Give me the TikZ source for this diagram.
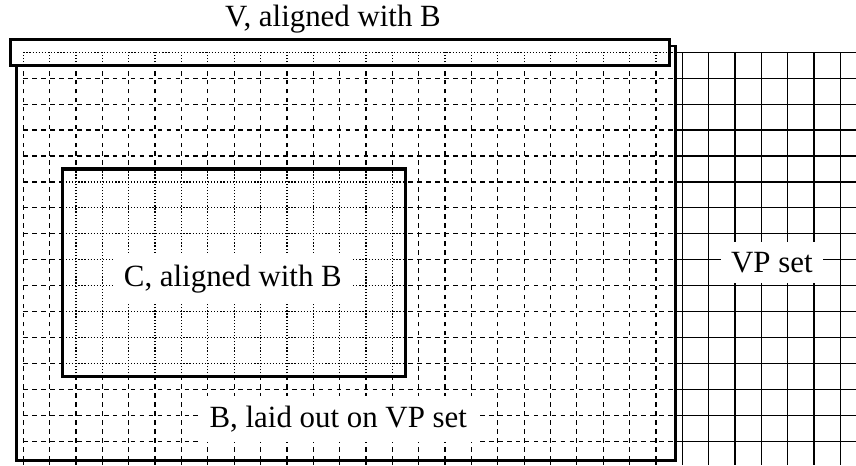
\documentclass[tikz,border=0pt]{standalone}
\usepackage{fontspec}
\setmainfont{Liberation Serif}
\tikzset{
	vpline/.style = {line width=0.4pt},
	bline/.style = {line width=0.4pt, dash pattern=on 1.5pt off 1.4pt,
		xstep=0.3cm, ystep=0.295cm},
	fineline/.style = {line width=0.4pt, dash pattern=on 0.4pt off 0.6pt,
		xstep=0.3cm, ystep=0.295cm},
	outline/.style = {line width=1pt, fill=white},
	tag/.style = {fill=white, anchor=base}
}
\begin{document}
\begin{tikzpicture}[x=0.3cm, y=0.295cm]
	\def\cols{31}
	\def\rows{15}
	\useasboundingbox (-0.884, -15.93) rectangle (31.59, 2.02);
	% the VP set, a plain grid running off the page
	\foreach \x in {0,...,\cols}
	{
		\draw [vpline] (\x, 0) -- (\x, -15.93);
	}
	\foreach \y in {0,...,-\rows}
	{
		\draw [vpline] (0, \y) -- (31.59, \y);
	}
	% B
	\coordinate (B sw) at (-0.25, -15.75);
	\coordinate (B ne) at (24.75, 0.25);
	\fill [white] (B sw) rectangle (B ne);
	\draw [bline] (0, -15.75) grid (B ne);
	\draw [outline, fill=none, line width=0.8pt] (B sw) rectangle (B ne);
	% C
	\coordinate (C sw) at (1.5, -12.5);
	\coordinate (C ne) at (14.5, -4.5);
	\fill [white] (C sw) rectangle (C ne);
	\draw [fineline] (C sw) grid (C ne);
	\draw [outline, fill=none] (C sw) rectangle (C ne);
	% V
	\coordinate (V sw) at (-0.5, -0.5);
	\coordinate (V ne) at (24.5, 0.5);
	\fill [white] (V sw) rectangle (V ne);
	\draw [fineline] (0, -0.5) grid (24.5, 0);
	\draw [outline, fill=none] (V sw) rectangle (V ne);
	% labels
	\node [anchor=base] (vlabel) at (11.75, 1) {V, aligned with B};
	\node [tag] (clabel) at (7.95, -9.05) {C, aligned with B};
	\node [tag] (blabel) at (11.95, -14.47) {B, laid out on VP set};
	\node [tag] (vplabel) at (28.4, -8.5) {VP set};
\end{tikzpicture}
\end{document}
